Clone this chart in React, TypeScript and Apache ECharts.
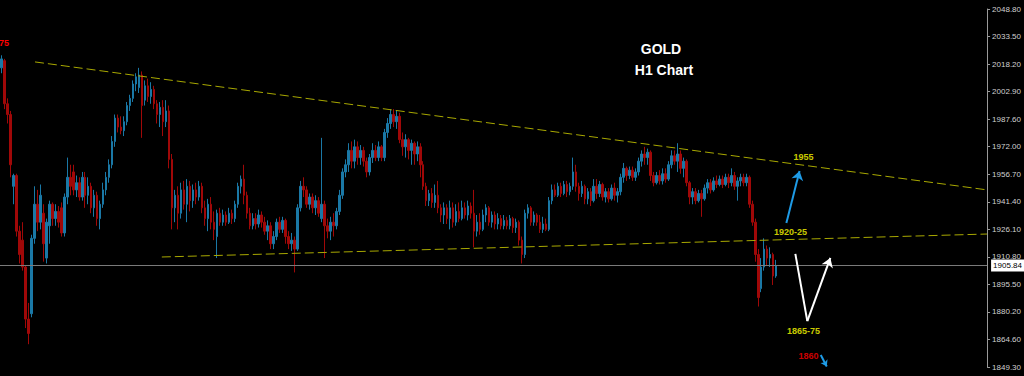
import React, { useEffect, useRef } from "react";
import * as echarts from "echarts";

// [open, close, low, high] for each H1 candle
const CANDLES: number[][] = [
  [2016,2021,2013,2023],[2020,1996,1993,2021],[1996,1990,1985,1999],[1990,1962,1955,1992],[1950,1956,1940,1957],
  [1956,1925,1922,1957],[1925,1912,1907,1928],[1920,1905,1903,1930],[1905,1876,1871,1906],[1876,1868,1862,1885],
  [1879,1921,1877,1923],[1921,1940,1918,1950],[1940,1930,1925,1948],[1930,1945,1926,1951],[1935,1918,1908,1940],
  [1910,1930,1907,1932],[1928,1940,1918,1942],[1940,1932,1928,1941],[1932,1936,1928,1940],[1936,1930,1927,1939],
  [1938,1924,1922,1941],[1924,1944,1922,1946],[1944,1955,1940,1966],[1955,1950,1945,1962],[1958,1948,1945,1962],
  [1948,1952,1944,1956],[1952,1944,1942,1955],[1944,1955,1942,1958],[1955,1945,1938,1958],[1945,1950,1940,1955],
  [1950,1938,1935,1952],[1938,1945,1933,1948],[1945,1932,1928,1947],[1932,1940,1926,1942],[1940,1948,1938,1952],
  [1948,1955,1945,1958],[1955,1962,1952,1965],[1962,1975,1960,1978],[1975,1988,1972,1990],[1988,1983,1980,1990],
  [1983,1981,1979,1989],[1981,1986,1978,1989],[1986,1995,1984,1997],[1995,1999,1992,2001],[1999,2007,1997,2009],
  [2007,2011,2003,2013],[2005,2012,2002,2016],[2012,1995,1977,2014],[1998,2006,1995,2009],[2006,2000,1997,2010],
  [2000,2004,1996,2008],[2004,1996,1993,2006],[1996,1990,1985,1998],[1990,1994,1983,1997],[1994,1986,1978,1998],
  [1986,1992,1983,1998],[1992,1965,1960,1995],[1965,1938,1926,1968],[1938,1945,1930,1948],[1945,1935,1926,1950],
  [1935,1948,1932,1952],[1948,1940,1937,1953],[1940,1950,1930,1954],[1950,1942,1936,1953],[1942,1948,1938,1951],
  [1948,1944,1940,1952],[1944,1950,1942,1953],[1950,1938,1935,1952],[1938,1932,1928,1942],[1932,1940,1925,1943],
  [1940,1930,1926,1944],[1930,1926,1920,1936],[1922,1935,1910,1937],[1935,1930,1928,1938],[1930,1934,1928,1937],
  [1934,1930,1928,1936],[1930,1935,1929,1938],[1935,1932,1929,1937],[1932,1940,1930,1942],[1940,1950,1938,1952],
  [1950,1954,1946,1956],[1954,1945,1940,1962],[1945,1935,1932,1947],[1935,1928,1926,1938],[1928,1932,1926,1935],
  [1932,1929,1926,1935],[1929,1934,1927,1937],[1934,1930,1927,1936],[1930,1925,1923,1933],[1925,1928,1920,1931],
  [1928,1918,1915,1930],[1918,1922,1915,1925],[1922,1930,1920,1932],[1930,1926,1924,1933],[1926,1931,1924,1933],
  [1931,1922,1918,1932],[1922,1918,1915,1925],[1918,1920,1914,1924],[1920,1915,1902,1922],[1915,1938,1914,1940],
  [1938,1950,1936,1953],[1950,1948,1944,1955],[1948,1940,1938,1950],[1940,1944,1937,1946],[1944,1938,1935,1946],
  [1938,1942,1934,1945],[1942,1935,1933,1944],[1932,1940,1930,1977],[1940,1928,1910,1942],[1928,1925,1921,1932],
  [1925,1930,1920,1933],[1930,1928,1922,1935],[1928,1936,1926,1938],[1936,1945,1934,1948],[1945,1958,1943,1960],
  [1958,1962,1955,1965],[1962,1970,1958,1974],[1970,1964,1960,1975],[1964,1972,1960,1976],[1972,1966,1962,1975],
  [1966,1970,1962,1973],[1970,1964,1961,1972],[1964,1958,1955,1966],[1958,1966,1956,1968],[1966,1970,1963,1974],
  [1970,1966,1964,1973],[1966,1972,1964,1975],[1972,1966,1964,1973],[1966,1980,1964,1982],[1980,1985,1977,1988],
  [1985,1990,1982,1993],[1990,1986,1983,1993],[1986,1989,1982,1992],[1989,1976,1974,1991],[1976,1972,1967,1980],
  [1972,1976,1966,1979],[1976,1970,1965,1977],[1970,1974,1962,1976],[1974,1968,1962,1975],[1968,1972,1964,1975],
  [1972,1962,1955,1974],[1962,1950,1948,1964],[1950,1942,1939,1952],[1942,1946,1939,1948],[1946,1941,1938,1949],
  [1941,1945,1938,1951],[1945,1938,1935,1953],[1938,1934,1930,1940],[1934,1938,1929,1941],[1938,1932,1929,1940],
  [1932,1938,1926,1942],[1938,1930,1927,1941],[1930,1936,1928,1940],[1936,1932,1930,1941],[1932,1938,1931,1942],
  [1938,1934,1932,1941],[1934,1939,1931,1942],[1939,1935,1932,1941],[1935,1925,1916,1948],[1925,1930,1922,1934],
  [1930,1926,1923,1935],[1926,1934,1925,1937],[1934,1938,1930,1940],[1938,1930,1928,1939],[1930,1934,1927,1936],
  [1934,1929,1926,1936],[1929,1932,1926,1935],[1932,1928,1926,1934],[1928,1931,1926,1934],[1931,1928,1926,1933],
  [1928,1932,1926,1934],[1932,1927,1924,1933],[1927,1930,1924,1932],[1930,1920,1917,1931],[1920,1912,1907,1922],
  [1912,1935,1910,1937],[1935,1938,1932,1940],[1938,1930,1928,1939],[1930,1934,1928,1936],[1934,1930,1928,1935],
  [1930,1926,1924,1934],[1926,1929,1924,1933],[1929,1926,1925,1932],[1926,1942,1925,1944],[1942,1948,1940,1951],
  [1948,1945,1944,1951],[1945,1950,1944,1952],[1950,1946,1944,1952],[1946,1951,1945,1953],[1951,1947,1944,1953],
  [1947,1950,1945,1952],[1950,1958,1948,1966],[1958,1950,1947,1962],[1950,1946,1942,1952],[1946,1950,1944,1953],
  [1950,1943,1940,1951],[1943,1947,1940,1949],[1947,1942,1939,1949],[1942,1950,1941,1954],[1950,1946,1943,1954],
  [1946,1951,1944,1953],[1951,1944,1942,1952],[1944,1947,1941,1949],[1947,1943,1941,1949],[1943,1949,1942,1951],
  [1949,1945,1942,1952],[1945,1947,1941,1949],[1947,1955,1945,1957],[1955,1960,1952,1963],[1960,1956,1953,1961],
  [1956,1959,1954,1961],[1959,1955,1953,1961],[1955,1958,1953,1960],[1958,1964,1956,1966],[1964,1968,1961,1970],
  [1968,1966,1962,1972],[1966,1969,1962,1971],[1969,1956,1953,1970],[1956,1952,1950,1958],[1952,1956,1951,1958],
  [1956,1953,1951,1959],[1953,1957,1951,1960],[1957,1954,1952,1960],[1954,1962,1953,1964],[1962,1967,1960,1970],
  [1967,1964,1962,1970],[1964,1968,1958,1974],[1968,1960,1957,1970],[1960,1964,1955,1966],[1964,1952,1950,1965],
  [1952,1944,1940,1953],[1944,1947,1940,1949],[1947,1942,1940,1949],[1942,1946,1941,1948],[1946,1943,1933,1948],
  [1943,1949,1942,1951],[1949,1952,1946,1954],[1952,1948,1946,1954],[1948,1953,1947,1955],[1953,1951,1949,1956],
  [1951,1954,1950,1956],[1954,1951,1949,1956],[1951,1955,1950,1957],[1955,1952,1949,1957],[1952,1956,1950,1960],
  [1956,1950,1948,1958],[1950,1953,1942,1955],[1953,1955,1950,1957],[1955,1952,1950,1957],[1952,1955,1950,1957],
  [1955,1940,1938,1956],[1940,1930,1928,1942],[1930,1912,1908,1932],[1912,1888,1883,1915],[1893,1905,1891,1910],
  [1905,1915,1903,1921],[1915,1910,1906,1917],[1910,1912,1905,1916],[1912,1900,1895,1913],[1900,1905.84,1899,1909],
];

const SLOT_COUNT = 330; // visible bar slots, including the empty space right of the last bar
const TICK_LABELS = [
  "1849.30", "1864.60", "1880.20", "1895.50", "1910.80", "1926.10", "1941.40",
  "1956.70", "1972.00", "1987.60", "2002.90", "2018.20", "2033.50", "2048.80",
];
const Y_MIN = 1849.3;
const Y_MAX = 2048.8;
const CURRENT_PRICE = 1905.84;

// trend lines: [bar index, price]
const UPPER_TREND = [[11.2, 2019.3], [329.5, 1948.0]];
const LOWER_TREND = [[53.6, 1910.6], [329.5, 1923.4]];

// drawn arrows: [bar index, price]
const BLUE_ARROW = [[262.4, 1929.6], [266.8, 1958.5]];
const WHITE_PATH = [[265.4, 1912.3], [269.4, 1874.9], [277.1, 1910.1]];
const SMALL_ARROW = [[273.9, 1856.0], [275.9, 1849.6]];

const LEVEL_TEXTS = ["1955", "1920-25", "1865-75", "1860"];
const LEVEL_POS = [[268.1, 1966.4], [263.8, 1924.6], [268.1, 1869.4], [269.8, 1855.4]];
const LEVEL_COLORS = ["#ffff00", "#ffff00", "#ffff00", "#ff0000"];

const UP = "#1a78a6";
const DOWN = "#a00808";
const TREND = "#a8a800";
const ARROW_BLUE = "#1e9be6";

export default function App() {
  const ref = useRef<HTMLDivElement>(null);
  useEffect(() => {
    if (!ref.current) return;
    const chart = echarts.init(ref.current, undefined, { renderer: "svg" });
    const step = (Y_MAX - Y_MIN) / (TICK_LABELS.length - 1);
    const cats = Array.from({ length: SLOT_COUNT }, (_, i) => String(i));
    const seg = (a: number[], b: number[], arrow: boolean, color: string, size: number) => [
      { coord: a, symbol: "none", lineStyle: { color, width: 2, type: "solid" } },
      { coord: b, symbol: arrow ? "arrow" : "none", symbolSize: size },
    ];
    chart.setOption({
      animation: false,
      backgroundColor: "#000",
      grid: { left: 0, right: 35, top: 9, bottom: 9, containLabel: false },
      xAxis: [
        { type: "category", data: cats, show: false, boundaryGap: true },
        { type: "value", min: -0.5, max: SLOT_COUNT - 0.5, show: false },
      ],
      yAxis: {
        type: "value",
        position: "right",
        min: Y_MIN,
        max: Y_MAX,
        interval: step,
        splitLine: { show: false },
        axisLine: { show: true, onZero: false, lineStyle: { color: "#9a9a9a", width: 1 } },
        axisTick: { show: true, inside: false, length: 3, lineStyle: { color: "#9a9a9a" } },
        axisLabel: {
          margin: 5,
          color: "#d0d0d0",
          fontSize: 8,
          fontFamily: "'Liberation Sans Narrow', 'Liberation Sans', Arial, sans-serif",
          formatter: (v: number) => TICK_LABELS[Math.round((v - Y_MIN) / step)] ?? "",
        },
      },
      graphic: [
        {
          type: "text", x: 661, y: 42,
          style: { text: "GOLD", fill: "#fff", font: "bold 14px 'Liberation Sans', Arial", textAlign: "center" },
        },
        {
          type: "text", x: 664, y: 63,
          style: { text: "H1 Chart", fill: "#fff", font: "bold 14px 'Liberation Sans', Arial", textAlign: "center" },
        },
        {
          type: "text", x: -1, y: 38,
          style: { text: "75", fill: "#ff0000", font: "bold 9px 'Liberation Sans', Arial", textAlign: "left" },
        },
      ],
      series: [
        {
          type: "candlestick",
          data: CANDLES,
          barWidth: 2,
          clip: false,
          itemStyle: { color: UP, color0: DOWN, borderColor: UP, borderColor0: DOWN, borderWidth: 1 },
          markLine: {
            silent: true,
            symbol: "none",
            animation: false,
            lineStyle: { color: "#7a7a7a", type: "solid", width: 1 },
            label: {
              show: true,
              position: "end",
              distance: 4,
              formatter: CURRENT_PRICE.toFixed(2),
              backgroundColor: "#ffffff",
              color: "#000",
              padding: [2, 2, 2, 2],
              fontSize: 8,
              fontFamily: "'Liberation Sans Narrow', 'Liberation Sans', Arial, sans-serif",
            },
            data: [{ yAxis: CURRENT_PRICE }],
          },
        },
        {
          type: "line",
          xAxisIndex: 1,
          data: UPPER_TREND,
          symbol: "none",
          lineStyle: { color: TREND, width: 1, type: [9, 4] },
          clip: false,
        },
        {
          type: "line",
          xAxisIndex: 1,
          data: LOWER_TREND,
          symbol: "none",
          lineStyle: { color: TREND, width: 1, type: [9, 4] },
          clip: false,
          markLine: {
            silent: true,
            animation: false,
            symbolSize: 9,
            label: { show: false },
            data: [
              seg(BLUE_ARROW[0], BLUE_ARROW[1], true, ARROW_BLUE, 9),
              seg(WHITE_PATH[0], WHITE_PATH[1], false, "#ffffff", 9),
              seg(WHITE_PATH[1], WHITE_PATH[2], true, "#ffffff", 9),
              seg(SMALL_ARROW[0], SMALL_ARROW[1], true, ARROW_BLUE, 6),
            ],
          },
        },
        {
          type: "scatter",
          xAxisIndex: 1,
          symbolSize: 0,
          clip: false,
          itemStyle: { color: "transparent" },
          label: {
            show: true,
            position: "inside",
            fontWeight: "bold",
            fontSize: 9,
            fontFamily: "'Liberation Sans', Arial, sans-serif",
          },
          data: LEVEL_TEXTS.map((t, i) => ({
            value: LEVEL_POS[i],
            label: { formatter: t, color: LEVEL_COLORS[i] },
          })),
        },
      ],
    });
    return () => chart.dispose();
  }, []);
  return <div ref={ref} style={{ position: "fixed", left: 0, top: 0, width: 1024, height: 376 }} />;
}
